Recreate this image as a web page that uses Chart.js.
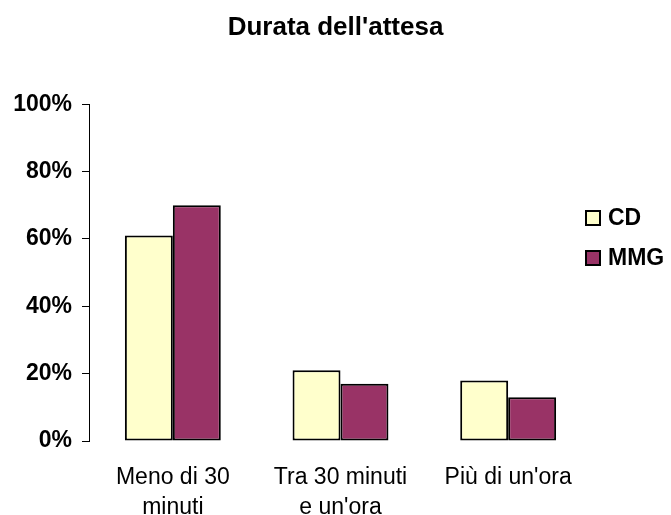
<!DOCTYPE html>
<html>
<head>
<meta charset="utf-8">
<script src="https://cdn.jsdelivr.net/npm/chart.js@4/dist/chart.umd.min.js"></script>
<style>
  html, body { margin: 0; padding: 0; background: #fff; }
  #wrap { width: 671px; height: 515px; }
</style>
</head>
<body>
<div id="wrap"><canvas id="attesa-chart"></canvas></div>
<script>
const categories = [
  ['Meno di 30', 'minuti'],
  ['Tra 30 minuti', "e un'ora"],
  ["Più di un'ora"],
];
const seriesNames = ['CD', 'MMG'];
const cdValues = [61, 21, 18];
const mmgValues = [70, 17, 13];
const yTicks = [0, 20, 40, 60, 80, 100];

const FONT = "'Liberation Sans', Arial, sans-serif";

// legend as a layout box on the right, so the title stays centred on the full width
const sideLegend = {
  id: 'sideLegend',
  beforeInit(chart) {
    const box = {
      position: 'right',
      fullSize: false,
      weight: 1000,
      options: {},
      update(maxWidth, maxHeight) {
        this.width = 79;
        this.height = maxHeight;
      },
      isHorizontal() { return false; },
      draw() {
        const c = chart.ctx;
        c.save();
        c.font = 'bold 23px ' + FONT;
        c.textBaseline = 'middle';
        chart.data.datasets.forEach((ds, i) => {
          const y = 218 + i * 40;
          const x = this.left - 6;
          c.fillStyle = ds.backgroundColor;
          c.fillRect(x, y - 7, 14, 14);
          c.lineWidth = 2;
          c.strokeStyle = '#000';
          c.strokeRect(x, y - 7, 14, 14);
          c.fillStyle = '#000';
          c.fillText(ds.label, x + 22, y + 1);
        });
        c.restore();
      },
    };
    Chart.layouts.addBox(chart, box);
  },
};

let ctx = document.getElementById('attesa-chart').getContext('2d');
let chart = new Chart(ctx, {
  type: 'bar',
  data: {
    labels: categories,
    datasets: [
      {
        label: seriesNames[0],
        data: cdValues,
        backgroundColor: '#FFFFCC',
        borderColor: '#000',
        borderWidth: 2,
        borderSkipped: false,
      },
      {
        label: seriesNames[1],
        data: mmgValues,
        backgroundColor: '#993366',
        borderColor: '#000',
        borderWidth: 2,
        borderSkipped: false,
      },
    ],
  },
  options: {
    responsive: true,
    maintainAspectRatio: false,
    animation: false,
    devicePixelRatio: 1,
    layout: { padding: 0 },
    datasets: { bar: { categoryPercentage: 0.572, barPercentage: 1.0 } },
    plugins: {
      legend: { display: false },
      tooltip: { enabled: false },
      title: {
        display: true,
        text: "Durata dell'attesa",
        color: '#000',
        font: { family: FONT, size: 26, weight: 'bold', lineHeight: 1.2 },
        padding: { top: 12, bottom: 61 },
      },
    },
    scales: {
      x: {
        grid: { display: false },
        border: { display: false },
        ticks: {
          color: '#000',
          font: { family: FONT, size: 23, lineHeight: 1.3 },
          padding: 14,
          maxRotation: 0,
          autoSkip: false,
        },
        afterFit(scale) { scale.height = 74; },
      },
      y: {
        min: 0,
        max: 100,
        afterBuildTicks(scale) {
          scale.ticks = yTicks.map((v) => ({ value: v }));
        },
        grid: {
          drawOnChartArea: false,
          drawTicks: true,
          tickLength: 7,
          color: '#000',
        },
        border: { display: true, color: '#000', width: 1 },
        ticks: {
          color: '#000',
          font: { family: FONT, size: 23, weight: 'bold' },
          padding: 10,
          callback: (v) => v + '%',
        },
        afterFit(scale) { scale.width = 89; },
      },
    },
  },
  plugins: [sideLegend],
});
</script>
</body>
</html>
